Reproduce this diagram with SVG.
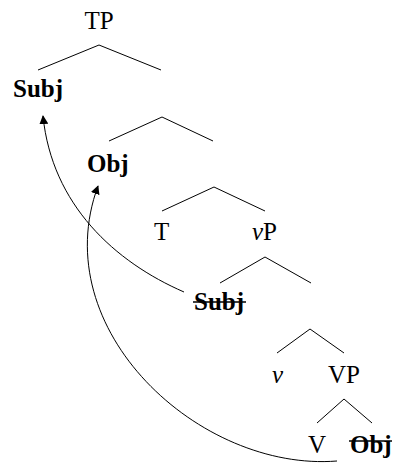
<svg xmlns="http://www.w3.org/2000/svg" width="396" height="463" viewBox="0 0 396 463">
<style>
text{font-family:"Liberation Serif","Times New Roman",serif;font-size:25px;fill:#000}
.b{font-weight:bold}
.i{font-style:italic}
.e{stroke:#000;stroke-width:1;fill:none}
.s{stroke:#000;stroke-width:1.5}
.a{stroke:#000;stroke-width:1;fill:none;marker-end:url(#ah)}
</style>
<defs>
<marker id="ah" viewBox="0 0 10 10" refX="9" refY="5" markerWidth="9" markerHeight="9" markerUnits="userSpaceOnUse" orient="auto">
<path d="M0,0L10,5L0,10z" fill="#000"/>
</marker>
</defs>
<rect width="396" height="463" fill="#fff"/>
<g id="connectors">
<polyline class="e" points="38,70 99,45 161,70"/>
<polyline class="e" points="109,141 162,117 213,141"/>
<polyline class="e" points="162,211 214,187 265,211"/>
<polyline class="e" points="220,283 265,257 311,283"/>
<polyline class="e" points="277,353 310,329 344,353"/>
<polyline class="e" points="317,423 344,399 372,423"/>
<path class="a" d="M184,292 C115,262 52,205 43,116"/>
<path class="a" d="M337,461 C200,472 45,330 98,186"/>
</g>
<g id="TP"><text x="99" y="29" text-anchor="middle">TP</text></g>
<g id="Subj"><text class="b" x="13" y="97">Subj</text></g>
<g id="Obj"><text class="b" x="87" y="172">Obj</text></g>
<g id="T"><text x="154" y="240">T</text></g>
<g id="vP"><text x="252" y="240"><tspan class="i">v</tspan>P</text></g>
<g id="Subj-trace"><text class="b" x="194" y="310">Subj</text><line class="s" x1="193" y1="302" x2="246" y2="302"/></g>
<g id="v"><text class="i" x="272" y="383">v</text></g>
<g id="VP"><text x="328" y="383">VP</text></g>
<g id="V"><text x="308" y="453">V</text></g>
<g id="Obj-trace"><text class="b" x="350" y="453">Obj</text><line class="s" x1="349" y1="441" x2="392" y2="441"/></g>
</svg>
